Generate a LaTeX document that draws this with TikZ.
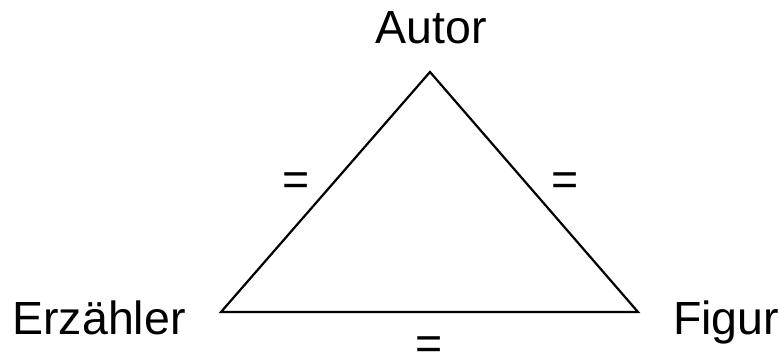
\documentclass[tikz,border=0pt]{standalone}
\usepackage{fontspec}
\setmainfont{Liberation Sans}
\usepackage{tikz}
\usetikzlibrary{positioning}

\begin{document}
\begin{tikzpicture}[x=1pt,y=-1pt,
  lbl/.style={font=\fontsize{46.5}{50}\selectfont,inner sep=0pt,anchor=base},
  eqsign/.style={font=\fontsize{46.5}{50}\selectfont,inner sep=0pt,anchor=base}]
\useasboundingbox (0,0) rectangle (780,356);
\coordinate (autor) at (430,72);
\coordinate (erz) at (221,312);
\coordinate (fig) at (638,312);
\draw[line width=2.2pt,line join=miter](erz)--(autor)--(fig)--cycle;
\node[lbl](autortxt) at (431,43){Autor};
\node[lbl](erztxt) at (99,334){Erzähler};
\node[lbl](figtxt) at (726,334){Figur};
\node[eqsign](eqa) at (296,195){=};
\node[eqsign](eqb) at (565,195){=};
\node[eqsign](eqc) at (429,359){=};
\end{tikzpicture}
\end{document}
